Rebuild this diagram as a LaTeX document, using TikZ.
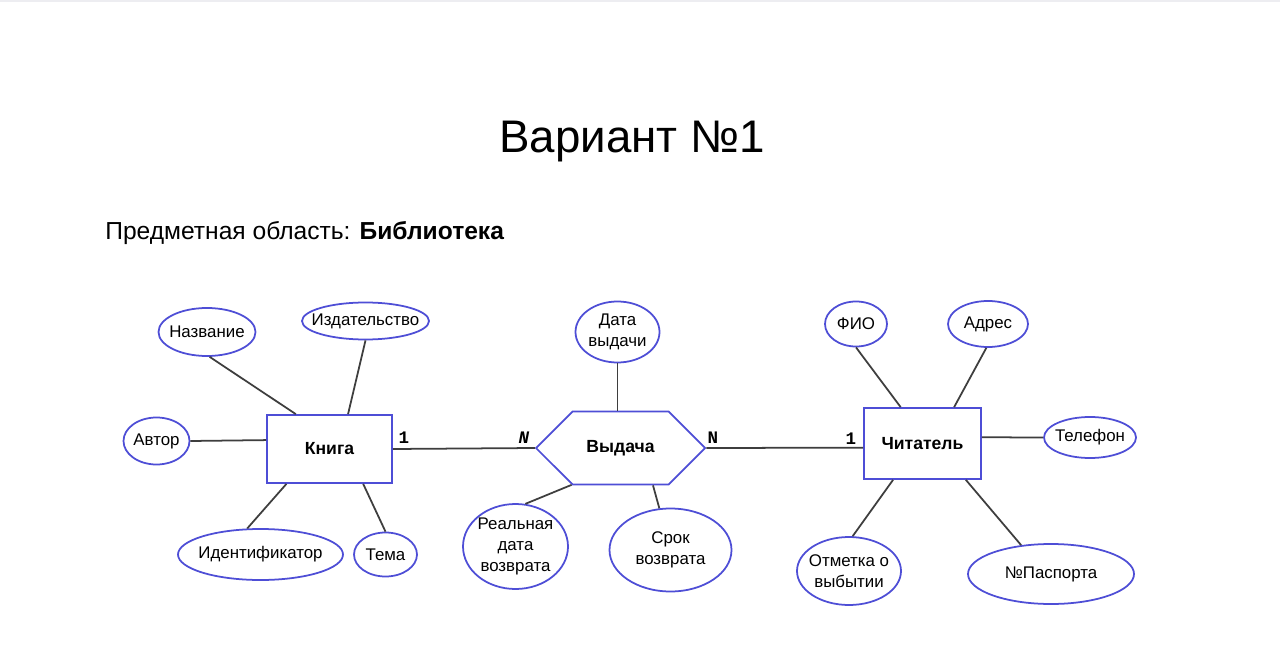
\documentclass[tikz,border=0pt]{standalone}
\usepackage{fontspec}
\setmainfont{Liberation Sans}
\newfontfamily\cardfont{Liberation Mono}
\usetikzlibrary{shapes.geometric,shapes.symbols}

\definecolor{erblue}{RGB}{78,78,214}
\definecolor{erline}{RGB}{62,62,62}

\tikzset{
  entity/.style 2 args={rectangle, draw=erblue, line width=1pt, inner sep=0pt,
    minimum width=#1*0.02cm, minimum height=#2*0.02cm,
    font=\fontsize{10}{12}\selectfont\bfseries},
  attr/.style 2 args={ellipse, draw=erblue, line width=1pt, inner sep=-40pt,
    minimum width=#1*0.02cm, minimum height=#2*0.02cm, align=center,
    font=\fontsize{9.6}{12.2}\selectfont},
  relship/.style={signal, signal to=west and east, signal pointer angle=90,
    draw=erblue, line width=1pt, inner sep=0pt,
    minimum width=169*0.02cm, minimum height=73*0.02cm,
    font=\fontsize{10}{12}\selectfont\bfseries},
  link/.style={draw=erline, line width=1pt},
  card/.style={inner sep=0pt, font=\cardfont\bfseries\fontsize{10}{10}\selectfont}
}

\begin{document}
\begin{tikzpicture}[x=0.02cm, y=-0.02cm]
                \useasboundingbox (0,0) rectangle (1280,658);
                \fill[white] (0,0) rectangle (1280,658);
                \fill[blue!20!black!7] (0,0) rectangle (1280,2);

                % Titles
                \node[anchor=base, font=\fontsize{26}{30}\selectfont] (title) at (632,153) {Вариант №1};
                \node[anchor=base west, inner sep=0pt, font=\fontsize{14}{16}\selectfont] (oblast) at (105,240) {Предметная область: \textbf{Библиотека}};

                % Nodes
                \node[entity={125}{68}] (kniga) at (329.5,449) {Книга};
                \node[relship] (vydacha) at (620.5,448) {Выдача};
                \node[entity={117}{71}] (chitatel) at (922.5,443.5) {Читатель};

                \node[attr={97}{48}] (nazvanie) at (207,332) {Название};
                \node[attr={127}{37}] (izdatelstvo) at (365.5,321) {Издательство};
                \node[attr={66}{47}] (avtor) at (156.5,441) {Автор};
                \node[attr={165}{51}] (ident) at (260.5,554.5) {Идентификатор};
                \node[attr={63}{44}] (tema) at (385.5,554.5) {Тема};

                \node[attr={84}{61}] (datavyd) at (617.5,332) {Дата\\выдачи};
                \node[attr={105}{85}] (realdata) at (515.5,546.5) {Реальная\\дата\\возврата};
                \node[attr={122}{83}] (srok) at (670.5,550) {Срок\\возврата};

                \node[attr={62}{45}] (fio) at (856,324) {ФИО};
                \node[attr={80}{46}] (adres) at (988,324) {Адрес};
                \node[attr={92}{41}] (telefon) at (1090,437.5) {Телефон};
                \node[attr={104}{68}] (otmetka) at (849,571) {Отметка о\\выбытии};
                \node[attr={166}{60}] (pasport) at (1051,574) {№Паспорта};

                % Cardinalities
                \node[card] (c1) at (404,438) {1};
                \node[card] (c2) at (524,438) {\itshape N};
                \node[card] (c3) at (713,438) {N};
                \node[card] (c4) at (851,439) {1};

                % Edges
                \draw[link] (kniga.east) -- (vydacha.west);
                \draw[link] (vydacha.east) -- (chitatel.184);

                \draw[link] (nazvanie.276) -- (kniga.134);
                \draw[link] (izdatelstvo.south) -- (kniga.62);
                \draw[link] (avtor.east) -- (kniga.172);
                \draw[link] (ident.117) -- (kniga.219);
                \draw[link] (tema.north) -- (kniga.314);

                \draw[link] (datavyd.south) -- (datavyd.south |- vydacha.north);
                \draw[link] (realdata.77) -- (vydacha.217);
                \draw[link] (srok.105) -- (vydacha.311);

                \draw[link] (fio.south) -- (chitatel.121);
                \draw[link] (adres.266) -- (chitatel.49);
                \draw[link] (telefon.west) -- (chitatel.6);
                \draw[link] (otmetka.84) -- (chitatel.231);
                \draw[link] (pasport.136) -- (chitatel.320);
\end{tikzpicture}
\end{document}
